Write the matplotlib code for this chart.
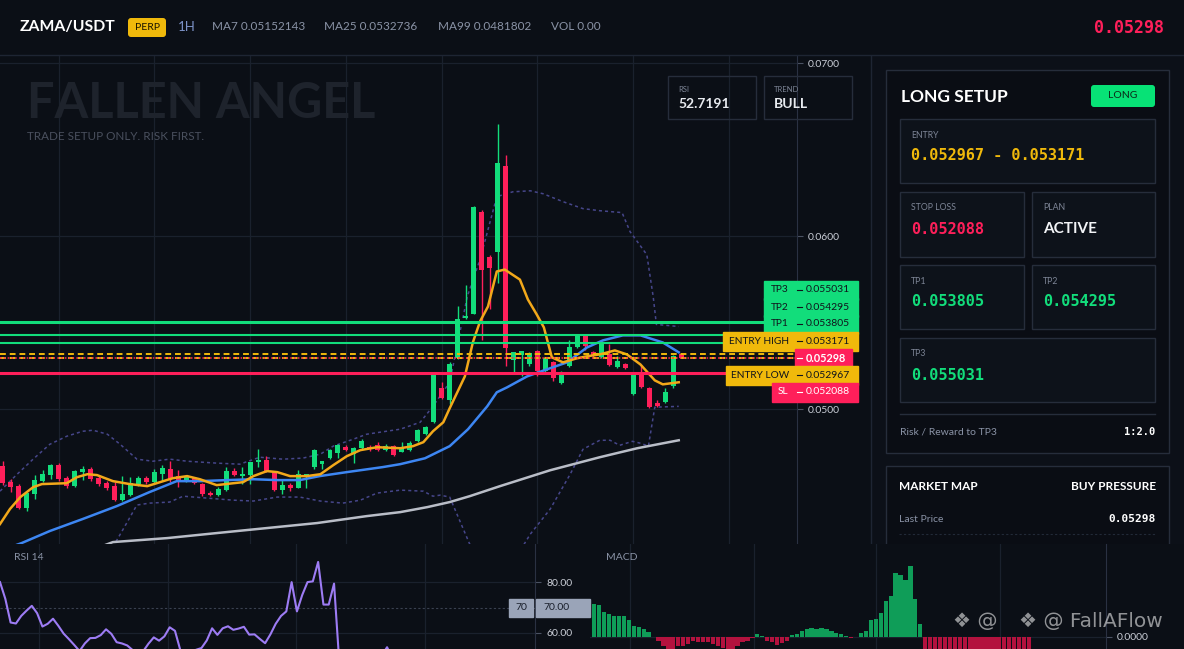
import numpy as np
import matplotlib.pyplot as plt
from matplotlib.patches import Rectangle, FancyBboxPatch

plt.rcParams['font.family'] = ['Lato', 'DejaVu Sans']

W, H = 1184, 649
BG = '#0b0f16'
GRID = '#1a212d'
EDGE = '#262d3b'
GREEN = '#12dd7b'
RED = '#ff1f5a'
YELLOW = '#f0b90b'
MUTED = '#8a93a6'
LABEL = '#c9cdd6'
MONO = 'DejaVu Sans Mono'

# ---------------- data ----------------
symbol = 'ZAMA/USDT'
header_items = ['MA7 0.05152143', 'MA25 0.0532736', 'MA99 0.0481802', 'VOL 0.00']
last_price = 0.05298
rsi_now = '52.7191'
trend = 'BULL'
risk_reward = '1:2.0'

level_names = ['TP3', 'TP2', 'TP1', 'ENTRY HIGH', 'ENTRY LOW', 'SL']
level_values = [0.055031, 0.054295, 0.053805, 0.053171, 0.052967, 0.052088]

price_ticks = [0.05, 0.06, 0.07]

# candles, prices in 1e-5 USDT
opens = np.array([
    4671, 4579, 4556, 4429, 4510, 4585, 4620, 4677, 4602, 4556,
    4637, 4654, 4602, 4573, 4556, 4475, 4504, 4568, 4602, 4579,
    4625, 4654, 4614, 4591, 4602, 4568, 4516, 4504, 4533, 4643,
    4614, 4620, 4694, 4706, 4637, 4533, 4562, 4545, 4614, 4666,
    4683, 4718, 4746, 4781, 4741, 4775, 4781, 4792, 4764, 4787,
    4752, 4764, 4815, 4856, 4925, 5121, 5052, 5294, 5525, 5553,
    6141, 5882, 5911, 6406, 5282, 5311, 5259, 5334, 5219, 5271,
    5150, 5248, 5357, 5427, 5329, 5300, 5317, 5242, 5259, 5086,
    5202, 5121, 5035, 5040, 5133, 5317]) * 1e-5
highs = np.array([
    4700, 4596, 4568, 4522, 4620, 4648, 4683, 4689, 4614, 4648,
    4671, 4666, 4614, 4585, 4579, 4614, 4608, 4614, 4614, 4654,
    4677, 4700, 4648, 4620, 4608, 4573, 4527, 4550, 4666, 4660,
    4666, 4694, 4769, 4729, 4643, 4596, 4573, 4648, 4625, 4769,
    4700, 4769, 4798, 4792, 4781, 4827, 4792, 4810, 4798, 4792,
    4810, 4815, 4885, 4902, 5202, 5156, 5271, 5599, 5715, 6176,
    6153, 5893, 6649, 6470, 5329, 5334, 5329, 5340, 5300, 5277,
    5219, 5398, 5432, 5432, 5334, 5403, 5375, 5306, 5265, 5208,
    5248, 5127, 5052, 5121, 5311, 5323]) * 1e-5
lows = np.array([
    4562, 4522, 4424, 4412, 4481, 4579, 4596, 4585, 4545, 4550,
    4591, 4585, 4556, 4533, 4470, 4470, 4498, 4556, 4568, 4573,
    4585, 4579, 4550, 4579, 4568, 4498, 4498, 4498, 4527, 4614,
    4568, 4568, 4666, 4637, 4527, 4510, 4527, 4545, 4545, 4654,
    4654, 4712, 4718, 4758, 4689, 4769, 4758, 4758, 4758, 4729,
    4752, 4758, 4810, 4850, 4919, 5058, 5029, 5288, 5519, 5548,
    5403, 5582, 5732, 5248, 5213, 5190, 5248, 5190, 5213, 5161,
    5144, 5242, 5352, 5340, 5300, 5294, 5248, 5236, 5231, 5081,
    5121, 5006, 5012, 5035, 5121, 5294]) * 1e-5
closes = np.array([
    4573, 4550, 4429, 4516, 4591, 4625, 4677, 4596, 4556, 4643,
    4654, 4596, 4568, 4545, 4475, 4510, 4573, 4602, 4579, 4637,
    4660, 4596, 4585, 4608, 4573, 4510, 4504, 4539, 4643, 4620,
    4625, 4694, 4706, 4637, 4533, 4562, 4545, 4625, 4625, 4764,
    4700, 4764, 4792, 4764, 4775, 4815, 4769, 4764, 4787, 4735,
    4775, 4804, 4879, 4896, 5196, 5063, 5259, 5519, 5536, 6170,
    5807, 5818, 6424, 5352, 5329, 5334, 5323, 5219, 5294, 5179,
    5213, 5357, 5427, 5363, 5306, 5386, 5254, 5277, 5236, 5202,
    5127, 5012, 5017, 5098, 5306, 5298]) * 1e-5

# indicator lines: (candle index, price in 1e-5)
ma7_x = [-0.35, 0.9, 2.2, 3.8, 4.9, 8.0, 9.3, 10.6, 11.8, 13.8, 15.9, 18.1, 19.7, 21.3,
         23.1, 24.7, 26.8, 28.9, 30.1, 31.4, 33.1, 34.4, 36.0, 38.1, 39.8, 41.4, 43.1,
         44.8, 46.9, 49.8, 51.4, 52.7, 53.9, 55.2, 56.0, 57.9, 58.9, 59.8, 60.8, 61.9,
         62.9, 64.8, 65.8, 66.9, 67.8, 68.8, 70.2, 71.9, 73.2, 74.8, 76.7, 78.2, 79.9,
         81.7, 82.7, 84.7]
ma7_y = [4337, 4424, 4493, 4550, 4568, 4573, 4608, 4625, 4620, 4585, 4568, 4556, 4579, 4602,
         4614, 4596, 4562, 4573, 4579, 4614, 4643, 4637, 4614, 4614, 4625, 4677, 4729,
         4764, 4781, 4775, 4787, 4810, 4873, 4925, 5006, 5190, 5386, 5507, 5594, 5796,
         5807, 5749, 5634, 5548, 5473, 5300, 5271, 5294, 5306, 5317, 5340, 5317, 5259,
         5167, 5144, 5156]
ma25_x = [-0.35, 2.4, 5.9, 10.0, 14.3, 18.4, 21.8, 24.7, 28.1, 31.4, 34.4, 37.2, 39.7,
          43.1, 47.6, 49.8, 52.9, 56.0, 58.3, 60.7, 61.9, 63.2, 65.7, 68.2, 70.7, 73.2,
          75.2, 77.7, 79.9, 82.7, 84.7]
ma25_y = [4182, 4228, 4297, 4366, 4441, 4522, 4585, 4585, 4591, 4596, 4591, 4591, 4614,
          4637, 4666, 4683, 4717, 4787, 4885, 5017, 5098, 5127, 5190, 5231, 5271, 5357,
          5398, 5427, 5427, 5386, 5329]
ma99_x = [12.2, 13.8, 20.6, 26.8, 33.1, 39.4, 45.6, 49.8, 53.2, 56.0, 58.5, 62.3, 68.6,
          74.8, 79.5, 84.7]
ma99_y = [4205, 4233, 4256, 4285, 4314, 4343, 4383, 4406, 4435, 4464, 4498, 4556, 4648,
          4723, 4775, 4821]
bb_up_x = [-0.35, 1.8, 3.8, 5.9, 8.0, 10.0, 11.3, 13.1, 14.7, 16.8, 18.8, 20.9, 23.1,
           26.8, 29.7, 32.2, 35.1, 37.6, 39.8, 41.4, 43.9, 45.6, 49.8, 52.3, 53.9, 56.0,
           58.2, 59.8, 61.9, 63.9, 66.1, 67.7, 70.2, 72.7, 74.8, 77.6, 78.6, 80.7, 81.5,
           81.9, 84.7]
bb_up_y = [4527, 4625, 4712, 4798, 4844, 4873, 4879, 4856, 4798, 4712, 4700, 4712, 4700,
           4689, 4683, 4723, 4712, 4718, 4741, 4787, 4827, 4856, 4885, 4925, 5017, 5156,
           5651, 5865, 6228, 6256, 6262, 6245, 6199, 6159, 6147, 6136, 6026, 5893, 5651,
           5490, 5478]
bb_lo_x = [13.8, 15.6, 16.8, 18.4, 20.9, 22.6, 25.6, 28.9, 31.4, 34.4, 37.2, 39.8, 42.6,
           44.8, 46.9, 49.8, 52.7, 53.9, 54.8, 56.0, 58.5, 61.0, 64.2, 66.1, 68.6, 71.1,
           72.7, 74.8, 76.1, 77.3, 78.9, 79.9, 80.9, 81.7, 84.7]
bb_lo_y = [4205, 4349, 4447, 4458, 4464, 4498, 4487, 4475, 4470, 4493, 4493, 4470, 4458,
           4475, 4516, 4533, 4527, 4498, 4504, 4493, 4222, 4107, 4136, 4279, 4424, 4625,
           4769, 4821, 4821, 4792, 4815, 4804, 4787, 5012, 5017]

rsi = [80.1, 73.5, 64.1, 63.7, 66.7, 68.8, 70.7, 67.8, 62.5, 63.6, 65.6, 62.8, 59.7, 57.5,
       55.2, 52.8, 55.8, 57.9, 58.0, 59.1, 61.4, 59.6, 56.3, 55.8, 55.0, 53.2, 52.0, 52.7,
       55.7, 58.2, 56.9, 58.6, 62.2, 60.8, 53.2, 52.0, 52.5, 53.3, 54.0, 57.0, 61.8, 59.2,
       61.8, 62.6, 61.2, 61.7, 62.4, 59.3, 59.4, 57.6, 55.9, 59.4, 63.6, 66.7, 68.5, 80.1,
       68.5, 75.0, 80.1, 80.4, 88.1, 71.2, 71.2, 79.5, 48.0, 45.0, 44.0, 43.0, 45.0, 44.0,
       46.0, 48.0, 51.0, 54.3, 50.0, 47.0, 45.0, 44.0, 46.0, 48.0, 47.0, 45.0, 43.0, 42.0,
       44.0, 41.0, 38.0, 36.0, 39.0, 42.0, 40.0, 37.0, 35.0, 38.0, 41.0, 44.0, 47.0, 45.0,
       48.0, 50.5, 52.7]

# MACD histogram in 1e-5
macd = np.array([
    16.3, 15.8, 12.3, 11.3, 10.3, 10.3, 10.3, 8.3, 5.3, 5.0, 3.8, 2.3, -0.3, -2.0, -4.7,
    -6.5, -5.8, -4.7, -4.3, -3.3, -2.0, -2.7, -2.3, -2.7, -3.3, -4.3, -5.7, -6.5, -6.5,
    -4.3, -2.3, -2.0, -0.7, 1.2, 0.3, -2.0, -2.7, -4.0, -3.0, -2.0, 0.7, 1.5, 2.8, 3.7,
    4.2, 4.0, 4.2, 3.7, 2.7, 1.8, 1.3, 0.3, -0.7, -0.3, 1.7, 2.8, 8.3, 8.8, 12.0, 17.8,
    20.3, 31.8, 30.8, 28.3, 35.3, 18.7, 6.3, -7.5, -8.0, -8.5, -9.0, -9.0, -9.5, -9.5,
    -9.0, -9.0, -8.5, -8.5, -8.0, -8.0, -7.5, -7.5, -7.0, -7.0, -6.8, -6.8, -6.6, -6.6,
    -6.5]) * 1e-5


def px_rect(x0, y0, x1, y1):
    return [x0 / W, 1 - y1 / H, (x1 - x0) / W, (y1 - y0) / H]


def box(a, x0, y0, x1, y1, fc, ec=None, lw=1.0, z=2):
    a.add_patch(Rectangle((x0, y0), x1 - x0, y1 - y0, facecolor=fc,
                          edgecolor=ec if ec else fc, lw=lw, zorder=z))


def bare(a):
    a.set_xticks([])
    a.set_yticks([])
    for s in a.spines.values():
        s.set_visible(False)


fig = plt.figure(figsize=(W / 100, H / 100), dpi=100, facecolor=BG)

# ---------------- price chart ----------------
ax = fig.add_axes(px_rect(0, 56, 797, 544))
ax.set_facecolor(BG)
x = np.arange(len(opens))
cols = np.where(closes >= opens, GREEN, RED)
ax.vlines(x, lows, highs, colors=cols, lw=1, zorder=3)
body_lo = np.minimum(opens, closes)
body_h = np.maximum(np.abs(closes - opens), 0.00004)
ax.bar(x, body_h, bottom=body_lo, width=0.62, color=cols, zorder=4)

k = 1e-5
ax.plot(bb_up_x, np.array(bb_up_y) * k, color='#46468a', lw=1.1, ls=(0, (2, 2)), zorder=2)
ax.plot(bb_lo_x, np.array(bb_lo_y) * k, color='#46468a', lw=1.1, ls=(0, (2, 2)), zorder=2)
ax.plot(ma99_x, np.array(ma99_y) * k, color='#b9bdc7', lw=1.8, zorder=5)
ax.plot(ma25_x, np.array(ma25_y) * k, color='#3d86f2', lw=1.8, zorder=5)
ax.plot(ma7_x, np.array(ma7_y) * k, color='#f2a81a', lw=1.8, zorder=6)

lvl = dict(zip(level_names, level_values))
ax.axhline(lvl['TP3'], color=GREEN, lw=2.2, zorder=7)
ax.axhline(lvl['TP2'], color=GREEN, lw=1.5, zorder=7)
ax.axhline(lvl['TP1'], color=GREEN, lw=1.5, zorder=7)
ax.axhline(lvl['ENTRY HIGH'], color=YELLOW, lw=1.4, ls=(0, (3, 2)), zorder=7)
ax.axhline(lvl['ENTRY LOW'], color=YELLOW, lw=1.4, ls=(0, (3, 2)), zorder=7)
ax.axhline(last_price, color=RED, lw=1.1, ls=(0, (1, 1.5)), zorder=7)
ax.axhline(lvl['SL'], color=RED, lw=2.2, zorder=7)

ax.set_xlim(-0.35, 99.52)
ax.set_ylim(0.042219, 0.070405)
ax.set_xticks([7, 19, 31, 43, 55, 67, 79, 91])
ax.set_xticklabels([])
ax.tick_params(axis='x', length=0)
ax.yaxis.tick_right()
ax.set_yticks(price_ticks)
ax.set_yticklabels([f'{v:.4f}' for v in price_ticks])
ax.tick_params(axis='y', colors='#4a5262', labelcolor=LABEL, labelsize=7.5,
               length=4, pad=4)
ax.grid(True, color=GRID, lw=0.9, zorder=0)
for s in ['top', 'left', 'bottom']:
    ax.spines[s].set_visible(False)
ax.spines['right'].set_color('#2a3142')

# ---------------- overlay UI ----------------
ui = fig.add_axes([0, 0, 1, 1])
ui.set_xlim(0, W)
ui.set_ylim(H, 0)
ui.axis('off')
ui.patch.set_alpha(0)

ui.plot([0, W], [55, 55], color='#1e2533', lw=1)
ui.text(20, 27, symbol, color='white', fontsize=11.3, fontweight='bold', va='center')
ui.add_patch(FancyBboxPatch((128, 18), 38, 19, boxstyle='round,pad=0,rounding_size=3',
                            facecolor=YELLOW, edgecolor='none'))
ui.text(147, 28, 'PERP', color='#1a1400', fontsize=7.5, ha='center', va='center')
ui.text(178, 27, '1H', color='#7d93c8', fontsize=9.5, va='center')
for xp, item in zip([212, 324, 438, 551], header_items):
    ui.text(xp, 27, item, color=MUTED, fontsize=8.5, va='center')
ui.text(1164, 28, f'{last_price:.5f}', color=RED, fontsize=12, fontweight='bold',
        family=MONO, ha='right', va='center')

ui.text(27, 103, 'FALLEN ANGEL', color='#1e232c', fontsize=35, fontweight='bold',
        va='center')
ui.text(27, 137, 'TRADE SETUP ONLY. RISK FIRST.', color='#4a505e', fontsize=8.4,
        va='center')

for bx, name, val in [(668, 'RSI', rsi_now), (764, 'TREND', trend)]:
    box(ui, bx, 76, bx + 88, 119, 'none', EDGE)
    ui.text(bx + 10, 89, name, color='#7d8596', fontsize=5.5, va='center')
    ui.text(bx + 10, 104, val, color='#e8ebf0', fontsize=10, fontweight='bold',
            va='center')

# price tags on the axis
tags = [('TP3', 764, GREEN), ('TP2', 764, GREEN), ('TP1', 764, GREEN),
        ('ENTRY HIGH', 723, YELLOW), ('PRICE', 795, RED),
        ('ENTRY LOW', 726, YELLOW), ('SL', 772, RED)]
tag_vals = {**lvl, 'PRICE': last_price}
for i, (name, x0, c) in enumerate(tags):
    yc = 290 + 17 * i
    txt = 'white' if c == RED else '#10141c'
    x1 = 852 if name == 'PRICE' else 858
    box(ui, x0, yc - 9.5, x1, yc + 9.5, c, z=3)
    if name != 'PRICE':
        ui.text((x0 + 795) / 2, yc, name, color=txt, fontsize=7.3, ha='center',
                va='center', zorder=4)
        ui.text(806, yc, f'{tag_vals[name]:.6f}', color=txt, fontsize=7.5,
                va='center', zorder=4)
    else:
        ui.text(806, yc, f'{tag_vals[name]:.5f}', color=txt, fontsize=7.8,
                fontweight='bold', va='center', zorder=4)
    ui.plot([797, 802], [yc, yc], color=txt, lw=0.8, zorder=4)

# sidebar
box(ui, 871, 56, W, 544, '#0c1018', z=1)
ui.plot([871, 871], [56, 544], color='#1e2533', lw=1, zorder=2)
box(ui, 886, 70, 1169, 453, '#0a0d14', EDGE, z=2)
ui.text(901, 97, 'LONG SETUP', color='white', fontsize=12.5, fontweight='bold',
        va='center', zorder=5)
ui.add_patch(FancyBboxPatch((1091, 85), 64, 22, boxstyle='round,pad=0,rounding_size=3',
                            facecolor='#07e276', edgecolor='none', zorder=5))
ui.text(1123, 96, 'LONG', color='#0b2a18', fontsize=7.5, ha='center', va='center',
        zorder=6)

cards = [(900, 119, 1155, 183, 'ENTRY',
          f"{lvl['ENTRY LOW']:.6f} - {lvl['ENTRY HIGH']:.6f}", YELLOW, MONO),
         (900, 192, 1024, 257, 'STOP LOSS', f"{lvl['SL']:.6f}", RED, MONO),
         (1032, 192, 1155, 257, 'PLAN', 'ACTIVE', '#f2f4f7', None),
         (900, 265, 1024, 329, 'TP1', f"{lvl['TP1']:.6f}", GREEN, MONO),
         (1032, 265, 1155, 329, 'TP2', f"{lvl['TP2']:.6f}", GREEN, MONO),
         (900, 338, 1155, 402, 'TP3', f"{lvl['TP3']:.6f}", GREEN, MONO)]
for x0, y0, x1, y1, lab, val, c, fam in cards:
    box(ui, x0, y0, x1, y1, '#0d121a', EDGE, z=3)
    ui.text(x0 + 11, y0 + 16, lab, color='#7d8596', fontsize=6.3, va='center', zorder=5)
    kw = {'family': fam} if fam else {}
    ui.text(x0 + 11, y0 + 37, val, color=c, fontsize=11, fontweight='bold',
            va='center', zorder=5, **kw)

ui.plot([900, 1155], [414, 414], color=EDGE, lw=1, zorder=4)
ui.text(900, 432, 'Risk / Reward to TP3', color=MUTED, fontsize=7.5, va='center', zorder=5)
ui.text(1155, 432, risk_reward, color='white', fontsize=7.5, fontweight='bold',
        family=MONO, ha='right', va='center', zorder=5)

box(ui, 886, 466, 1169, 600, '#0a0d14', EDGE, z=2)
ui.text(899, 486, 'MARKET MAP', color='white', fontsize=8.5, fontweight='bold',
        va='center', zorder=5)
ui.text(1156, 486, 'BUY PRESSURE', color='white', fontsize=8.5, fontweight='bold',
        ha='right', va='center', zorder=5)
ui.text(899, 519, 'Last Price', color=MUTED, fontsize=7.5, va='center', zorder=5)
ui.text(1156, 519, f'{last_price:.5f}', color='white', fontsize=8, fontweight='bold',
        family=MONO, ha='right', va='center', zorder=5)
ui.plot([899, 1156], [534, 534], color='#222a38', lw=0.8, ls=(0, (2, 2)), zorder=4)

# ---------------- bottom strip ----------------
strip = fig.add_axes(px_rect(0, 544, W, H))
strip.set_facecolor(BG)
bare(strip)

ax_r = fig.add_axes(px_rect(0, 544, 535, H))
ax_r.patch.set_alpha(0)
ax_r.plot(np.arange(len(rsi)), rsi, color='#9d7cf4', lw=1.5, zorder=3)
ax_r.set_xlim(0, 100.9)
ax_r.set_ylim(53.6, 95.2)
ax_r.axhline(70, color='#3a4150', lw=0.8, ls=(0, (2, 2)), zorder=1)
ax_r.set_xticks([7.4, 31.7, 55.8, 80.2])
ax_r.set_xticklabels([])
ax_r.tick_params(axis='x', length=0)
ax_r.yaxis.tick_right()
ax_r.set_yticks([60, 80])
ax_r.set_yticklabels(['60.00', '80.00'])
ax_r.tick_params(axis='y', colors='#4a5262', labelcolor=LABEL, labelsize=7.5,
                 length=4, pad=4)
ax_r.grid(True, color=GRID, lw=0.9, zorder=0)
for s in ['top', 'left', 'bottom']:
    ax_r.spines[s].set_visible(False)
ax_r.spines['right'].set_color('#2a3142')

ax_m = fig.add_axes(px_rect(590, 544, 1106, H))
ax_m.patch.set_alpha(0)
ax_m.bar(np.arange(len(macd)), macd, width=0.87,
         color=np.where(macd >= 0, '#0f9d58', '#b3123e'), zorder=3)
ax_m.set_xlim(-0.87, 103.6)
ax_m.set_ylim(-6e-5, 46e-5)
ax_m.set_xticks([7.2, 32.3, 57.0, 82.1])
ax_m.set_xticklabels([])
ax_m.tick_params(axis='x', length=0)
ax_m.yaxis.tick_right()
ax_m.set_yticks([0])
ax_m.set_yticklabels(['0.0000'])
ax_m.tick_params(axis='y', colors='#4a5262', labelcolor=LABEL, labelsize=7.5,
                 length=4, pad=4)
ax_m.grid(True, color=GRID, lw=0.9, zorder=0)
for s in ['top', 'left', 'bottom']:
    ax_m.spines[s].set_visible(False)
ax_m.spines['right'].set_color('#2a3142')

ui2 = fig.add_axes([0, 0, 1, 1])
ui2.set_xlim(0, W)
ui2.set_ylim(H, 0)
ui2.axis('off')
ui2.patch.set_alpha(0)
ui2.text(14, 558, 'RSI 14', color=MUTED, fontsize=7.5, va='center')
ui2.text(606, 558, 'MACD', color=MUTED, fontsize=7.5, va='center')
box(ui2, 509, 599, 533, 617, '#9aa4b8')
box(ui2, 536, 599, 590, 617, '#9aa4b8')
ui2.text(521, 608, '70', color='#1a1f2b', fontsize=7.5, ha='center', va='center', zorder=4)
ui2.text(543, 608, '70.00', color='#1a1f2b', fontsize=7.5, va='center', zorder=4)
# watermark: second stamp sits on top of the first one's handle
ui2.text(953, 622, '\u2756 @', color='white', alpha=0.55, fontsize=14.5,
         va='center', family=['DejaVu Sans'])
ui2.text(1019, 622, '\u2756 @ FallAFlow', color='white', alpha=0.55, fontsize=14.5,
         va='center', family=['DejaVu Sans'])

fig.savefig('out.png', dpi=100, facecolor=BG)
